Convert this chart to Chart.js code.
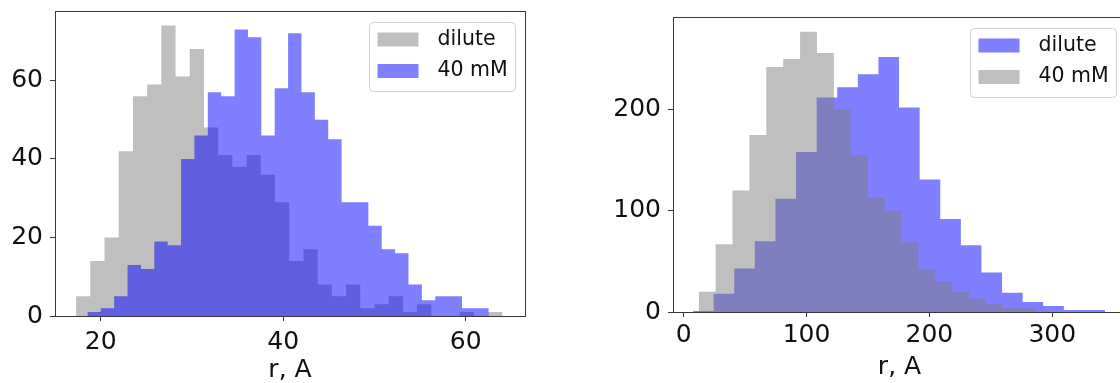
<!DOCTYPE html>
<html>
<head>
<meta charset="utf-8">
<title>r distributions</title>
<script src="https://cdn.jsdelivr.net/npm/chart.js@4.4.0/dist/chart.umd.min.js"></script>
<style>
    html, body { margin: 0; padding: 0; background: #fff; overflow: hidden; }
    body { width: 1120px; height: 383px; position: relative; }
    .panel { position: absolute; top: 0; height: 383px; }
    #leftPanel { left: 0; width: 560px; }
    #rightPanel { left: 560px; width: 570px; }
</style>
</head>
<body>
<div class="panel" id="leftPanel"><canvas id="leftChart"></canvas></div>
<div class="panel" id="rightPanel"><canvas id="rightChart"></canvas></div>

<script>
// Left panel, 30 bins per series
const leftDiluteStart = 17.31;
const leftDiluteWidth = 1.557;
const leftDiluteCounts = [5, 14, 20, 42, 56, 59, 74, 61, 68, 48, 41, 38, 41, 36, 29, 14, 17, 8, 5, 8, 2, 3, 5, 1, 3, 0, 0, 1, 0, 1];
const left40Start = 18.55;
const left40Width = 1.466;
const left40Counts = [1, 2, 5, 13, 12, 19, 18, 40, 46, 57, 56, 73, 71, 46, 58, 72, 57, 50, 45, 29, 29, 23, 17, 16, 8, 4, 5, 5, 2, 2];
const leftXTicks = [20, 40, 60];
const leftYTicks = [0, 20, 40, 60];

// Right panel, 20 bins per series
const rightDiluteStart = 7.58;
const rightDiluteWidth = 16.77;
const rightDiluteCounts = [1, 18, 43, 70, 112, 158, 212, 222, 235, 252, 202, 131, 92, 66, 39, 19, 10, 6, 2, 2];
const right40Start = 12.22;
const right40Width = 13.75;
const right40Counts = [20, 67, 120, 175, 242, 250, 277, 256, 200, 155, 113, 100, 69, 42, 31, 20, 13, 8, 4, 4];
const rightXTicks = [0, 100, 200, 300];
const rightYTicks = [0, 100, 200];

const xLabel = 'r, A';

const GRAY = 'rgba(128, 128, 128, 0.5)';
const BLUE = 'rgba(0, 0, 255, 0.5)';
const axisColor = '#3a3a3a';
const textColor = '#111';
const tickFont = { family: 'DejaVu Sans', size: 25 };
const titleFont = { family: 'DejaVu Sans', size: 25, lineHeight: 1.0 };
const legendFont = '20.5px "DejaVu Sans"';

// bin edges -> stepped outline points
function histPoints(start, width, counts) {
    const pts = counts.map((c, i) => ({ x: start + i * width, y: c }));
    pts.push({ x: start + counts.length * width, y: 0 });
    return pts;
}

function histDataset(label, color, start, width, counts) {
    return {
        label: label,
        data: histPoints(start, width, counts),
        backgroundColor: color,
        borderColor: 'rgba(0,0,0,0)',
        borderWidth: 0,
        pointRadius: 0,
        stepped: true,
        fill: 'origin'
    };
}

// axes box (all four spines)
const frame = {
    id: 'frame',
    afterDatasetsDraw(chart) {
        const { ctx, chartArea: a } = chart;
        ctx.save();
        ctx.strokeStyle = axisColor;
        ctx.lineWidth = 1;
        const l = Math.round(a.left) + 0.5, t = Math.round(a.top) + 0.5;
        const r = Math.round(a.right) + 0.5, b = Math.round(a.bottom) + 0.5;
        ctx.strokeRect(l, t, r - l, b - t);
        ctx.restore();
    }
};

// matplotlib-like legend box in the upper right
const boxLegend = {
    id: 'boxLegend',
    afterDraw(chart, args, opts) {
        const { ctx, chartArea: a } = chart;
        const items = opts.order.map(i => chart.data.datasets[i]);
        ctx.save();
        ctx.font = legendFont;
        const textW = Math.max(...items.map(d => ctx.measureText(d.label).width));
        const w = Math.round(68 + textW + 8);
        const h = 69;
        const x = Math.round(a.right - 10 - w) + 0.5;
        const y = Math.round(a.top + 11) + 0.5;
        ctx.beginPath();
        ctx.roundRect(x, y, w, h, 4);
        ctx.fillStyle = 'rgba(255,255,255,0.8)';
        ctx.fill();
        ctx.strokeStyle = '#d0d0d0';
        ctx.lineWidth = 1;
        ctx.stroke();
        items.forEach((d, i) => {
            const cy = y + 17 + i * 31.5;
            ctx.fillStyle = d.backgroundColor;
            ctx.fillRect(x + 8, cy - 7, 41, 14);
            ctx.fillStyle = textColor;
            ctx.textBaseline = 'middle';
            ctx.textAlign = 'left';
            ctx.fillText(d.label, x + 68, cy);
        });
        ctx.restore();
    }
};

function makeOptions(cfg) {
    return {
        animation: false,
        responsive: true,
        maintainAspectRatio: false,
        events: [],
        layout: { padding: { top: cfg.padTop, right: cfg.padRight, left: 0, bottom: 0 } },
        scales: {
            x: {
                type: 'linear',
                min: cfg.xMin,
                max: cfg.xMax,
                afterBuildTicks: s => { s.ticks = cfg.xTicks.map(v => ({ value: v })); },
                afterFit: s => { s.height = cfg.xAxisHeight; s.paddingLeft = 0; s.paddingRight = 0; },
                grid: { drawOnChartArea: false, drawTicks: true, tickLength: 5, tickColor: axisColor },
                border: { display: false },
                ticks: {
                    font: tickFont, color: textColor, padding: cfg.xTickPad,
                    maxRotation: 0, autoSkip: false,
                    callback: v => String(v)
                },
                title: {
                    display: true, text: xLabel, font: titleFont, color: textColor,
                    padding: { top: 0, bottom: cfg.titlePad }
                }
            },
            y: {
                min: 0,
                max: cfg.yMax,
                afterBuildTicks: s => { s.ticks = cfg.yTicks.map(v => ({ value: v })); },
                afterFit: s => { s.width = cfg.yAxisWidth; s.paddingTop = 0; s.paddingBottom = 0; },
                grid: { drawOnChartArea: false, drawTicks: true, tickLength: 5, tickColor: axisColor },
                border: { display: false },
                ticks: {
                    font: tickFont, color: textColor, padding: 7,
                    callback: v => String(v)
                }
            }
        },
        plugins: {
            legend: { display: false },
            tooltip: { enabled: false },
            boxLegend: { order: [1, 0] }
        }
    };
}

// left: dilute (gray) underneath, 40 mM (blue) on top
new Chart(document.getElementById('leftChart'), {
    type: 'line',
    data: {
        datasets: [
            histDataset('40 mM', BLUE, left40Start, left40Width, left40Counts),
            histDataset('dilute', GRAY, leftDiluteStart, leftDiluteWidth, leftDiluteCounts)
        ]
    },
    options: makeOptions({
        padTop: 11, padRight: 35, yAxisWidth: 55, xAxisHeight: 67,
        xMin: 15.0, xMax: 66.5, yMax: 77.7,
        xTicks: leftXTicks, yTicks: leftYTicks,
        xTickPad: 6, titlePad: 0
    }),
    plugins: [frame, boxLegend]
});

// right: dilute (blue) underneath, 40 mM (gray) on top
new Chart(document.getElementById('rightChart'), {
    type: 'line',
    data: {
        datasets: [
            histDataset('40 mM', GRAY, right40Start, right40Width, right40Counts),
            histDataset('dilute', BLUE, rightDiluteStart, rightDiluteWidth, rightDiluteCounts)
        ]
    },
    options: makeOptions({
        padTop: 17, padRight: 4, yAxisWidth: 113, xAxisHeight: 71,
        xMin: -8.7, xMax: 360, yMax: 291.5,
        xTicks: rightXTicks, yTicks: rightYTicks,
        xTickPad: 3, titlePad: 3.5
    }),
    plugins: [frame, boxLegend]
});
</script>
</body>
</html>
